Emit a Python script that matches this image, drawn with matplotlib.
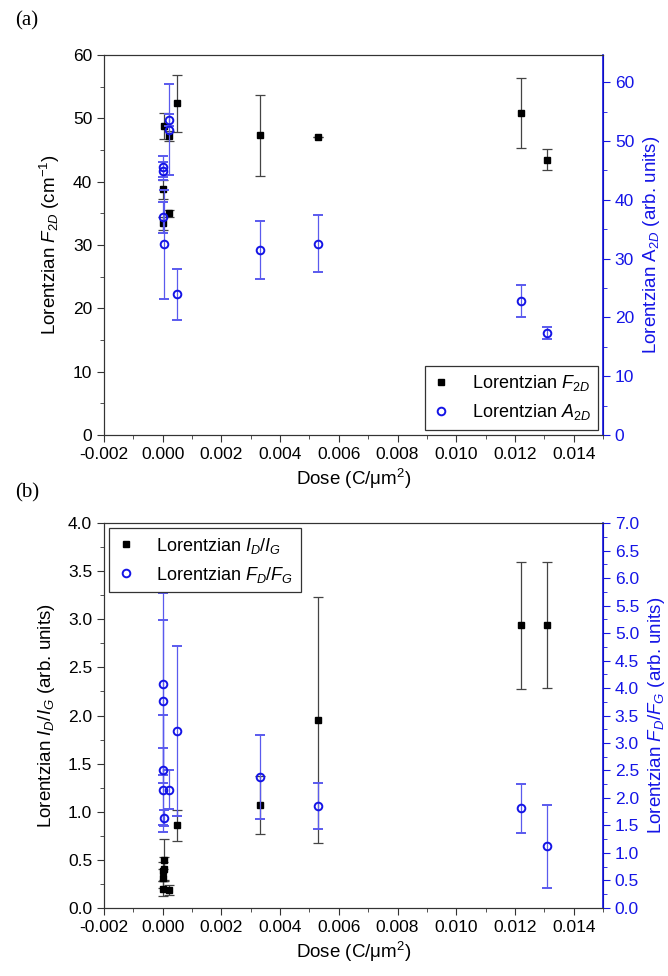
import matplotlib
matplotlib.use('Agg')
import matplotlib.pyplot as plt
from matplotlib.lines import Line2D
from matplotlib.ticker import MultipleLocator

plt.rcParams['font.family'] = ['Liberation Sans', 'DejaVu Sans']
plt.rcParams['mathtext.fontset'] = 'custom'
plt.rcParams['mathtext.rm'] = 'Liberation Sans'
plt.rcParams['mathtext.it'] = 'Liberation Sans:italic'
plt.rcParams['mathtext.bf'] = 'Liberation Sans:bold'

# (a) 2D band: Lorentzian width (left) and area (right)
dose_f2d = [0.0, 0.0, 0.00005, 0.0002, 0.0002, 0.0005, 0.0033, 0.0053, 0.0122, 0.0131]
f2d = [38.8, 33.4, 48.8, 47.2, 35.0, 52.4, 47.3, 47.05, 50.8, 43.5]
f2d_err = [1.5, 1.0, 2.0, 0.8, 0.5, 4.5, 6.4, 0.0, 5.5, 1.6]

dose_a2d = [0.0, 0.0, 0.00002, 0.00005, 0.0002, 0.0002, 0.0005, 0.0033, 0.0053, 0.0122, 0.0131]
a2d = [45.6, 44.9, 37.0, 32.4, 53.5, 51.9, 23.9, 31.4, 32.5, 22.8, 17.4]
a2d_err = [1.8, 1.5, 2.6, 9.2, 1.0, 7.7, 4.3, 4.9, 4.85, 2.7, 1.0]

# (b) D/G intensity ratio (left) and width ratio (right)
dose_idig = [0.0, 0.00001, 0.00002, 0.00003, 0.00005, 0.0002, 0.0005, 0.0033, 0.0053, 0.0122, 0.0131]
idig = [0.20, 0.31, 0.38, 0.41, 0.50, 0.19, 0.86, 1.07, 1.95, 2.94, 2.94]
idig_err = [0.08, 0.1, 0.1, 0.12, 0.22, 0.05, 0.16, 0.3, 1.28, 0.66, 0.65]

dose_fdfg = [0.0, 0.0, 0.00002, 0.0, 0.00005, 0.0002, 0.0005, 0.0033, 0.0053, 0.0122, 0.0131]
fdfg = [4.07, 3.76, 2.51, 2.15, 1.64, 2.15, 3.22, 2.38, 1.86, 1.81, 1.12]
fdfg_err = [1.65, 1.48, 1.0, 0.76, 0.15, 0.35, 1.55, 0.76, 0.42, 0.44, 0.75]

blue = '#1414e6'
blue_err = '#5a5aee'
fs = 12.5      # tick labels
fs_lab = 13.5  # axis titles
fs_leg = 13


def style(ax, ax2, ymax, ystep, y2max, y2step):
    ax.set_xlim(-0.002, 0.015)
    ax.set_ylim(0, ymax)
    ax2.set_ylim(0, y2max)
    ax.xaxis.set_major_locator(MultipleLocator(0.002))
    ax.xaxis.set_minor_locator(MultipleLocator(0.001))
    ax.yaxis.set_major_locator(MultipleLocator(ystep))
    ax.yaxis.set_minor_locator(MultipleLocator(ystep / 2))
    ax2.yaxis.set_major_locator(MultipleLocator(y2step))
    ax2.yaxis.set_minor_locator(MultipleLocator(y2step / 2))
    ax.xaxis.set_major_formatter(plt.FuncFormatter(lambda v, p: f'{v:.3f}'))
    ax.tick_params(which='both', direction='out', top=False, right=False,
                   labelsize=fs, color='#333333')
    ax.tick_params(which='major', length=5)
    ax.tick_params(which='minor', length=3)
    ax2.tick_params(which='both', direction='out', colors=blue, labelsize=fs)
    ax2.tick_params(which='major', length=5)
    ax2.tick_params(which='minor', length=3)
    for s in ['left', 'bottom', 'top']:
        ax.spines[s].set_color('#333333')
        ax2.spines[s].set_color('#333333')
    ax2.spines['right'].set_color(blue)
    ax2.spines['right'].set_linewidth(1.2)
    ax.set_xlabel('Dose (C/μm$^{2}$)', fontsize=fs_lab, labelpad=4)


fig = plt.figure(figsize=(6.68, 9.76), dpi=100)

# panel (a)
ax_a = fig.add_axes([0.1557, 0.5543, 0.7470, 0.3893])
ax_a2 = ax_a.twinx()
ax_a.errorbar(dose_f2d, f2d, yerr=f2d_err, fmt='s', color='k', ms=5,
              ecolor='#444444', elinewidth=0.9, capsize=3.5, capthick=0.9)
ax_a2.errorbar(dose_a2d, a2d, yerr=a2d_err, fmt='o', mfc='none', mec=blue, mew=1.4,
               ms=5.5, ecolor=blue_err, elinewidth=0.9, capsize=3.5, capthick=0.9)
style(ax_a, ax_a2, 60, 10, 64.6, 10)
ax_a.set_ylabel('Lorentzian $\\mathit{F}_{\\mathit{2D}}$ (cm$^{-1}$)', fontsize=fs_lab, labelpad=8)
ax_a2.set_ylabel('Lorentzian A$_{2D}$ (arb. units)', fontsize=fs_lab, color=blue, labelpad=5)
handles = [Line2D([], [], marker='s', ls='none', color='k', ms=5),
           Line2D([], [], marker='o', ls='none', mfc='none', mec=blue, mew=1.4, ms=5.5)]
leg = ax_a2.legend(handles, ['Lorentzian $\\mathit{F}_{\\mathit{2D}}$',
                             'Lorentzian $\\mathit{A}_{\\mathit{2D}}$'],
                   loc='lower right', fontsize=fs_leg, fancybox=False, framealpha=1,
                   edgecolor='#333333', handletextpad=1.2, handlelength=1,
                   borderaxespad=0.3)
leg.get_frame().set_linewidth(0.9)

# panel (b)
ax_b = fig.add_axes([0.1557, 0.0697, 0.7470, 0.3944])
ax_b2 = ax_b.twinx()
ax_b.errorbar(dose_idig, idig, yerr=idig_err, fmt='s', color='k', ms=5,
              ecolor='#444444', elinewidth=0.9, capsize=3.5, capthick=0.9)
ax_b2.errorbar(dose_fdfg, fdfg, yerr=fdfg_err, fmt='o', mfc='none', mec=blue, mew=1.4,
               ms=5.5, ecolor=blue_err, elinewidth=0.9, capsize=3.5, capthick=0.9)
style(ax_b, ax_b2, 4.0, 0.5, 7.0, 0.5)
ax_b.yaxis.set_major_formatter(plt.FuncFormatter(lambda v, p: f'{v:.1f}'))
ax_b2.yaxis.set_major_formatter(plt.FuncFormatter(lambda v, p: f'{v:.1f}'))
ax_b.set_ylabel('Lorentzian $\\mathit{I}_{\\mathit{D}}/\\mathit{I}_{\\mathit{G}}$ (arb. units)',
                fontsize=fs_lab, labelpad=8)
ax_b2.set_ylabel('Lorentzian $\\mathit{F}_{\\mathit{D}}/\\mathit{F}_{\\mathit{G}}$ (arb. units)',
                 fontsize=fs_lab, color=blue, labelpad=5)
leg = ax_b2.legend(handles, ['Lorentzian $\\mathit{I}_{\\mathit{D}}/\\mathit{I}_{\\mathit{G}}$',
                             'Lorentzian $\\mathit{F}_{\\mathit{D}}/\\mathit{F}_{\\mathit{G}}$'],
                   loc='upper left', fontsize=fs_leg, fancybox=False, framealpha=1,
                   edgecolor='#333333', handletextpad=1.2, handlelength=1,
                   borderaxespad=0.3)
leg.get_frame().set_linewidth(0.9)

fig.text(0.022, 0.988, '(a)', family='Liberation Serif', fontsize=15, va='top')
fig.text(0.022, 0.505, '(b)', family='Liberation Serif', fontsize=15, va='top')

fig.savefig('out.png', dpi=100)
